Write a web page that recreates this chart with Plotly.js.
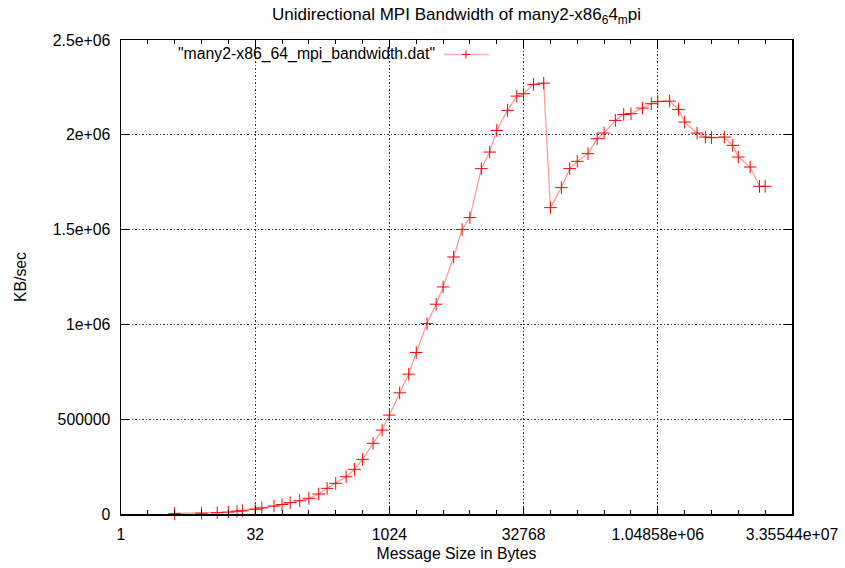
<!DOCTYPE html>
<html>
<head>
<meta charset="utf-8">
<script src="https://cdn.plot.ly/plotly-3.0.1.min.js"></script>
<style>
html,body{margin:0;padding:0;background:#fff;}
#chart{width:845px;height:568px;}
</style>
</head>
<body>
<div id="chart"></div>
<script>
// Message sizes (bytes)
var messageSizes = [4, 8, 12, 16, 20, 23, 32, 38, 52, 64, 79, 101, 128, 165, 205, 256, 335, 415, 512, 672, 848, 1024,
  1335, 1686, 2048, 2707, 3420, 4096, 5380, 6700, 8192, 11000, 13650, 16384, 21600, 27500, 32768, 42300, 55100, 65536,
  87000, 107800, 131072, 172900, 219000, 262144, 350400, 434700, 524288, 705600, 887000, 1048576, 1422000, 1789000,
  2097152, 2889000, 3580000, 4194304, 5850000, 7260000, 8388608, 11380000, 14500000, 16777216];
// Bandwidth (KB/sec)
var bandwidth = [3000, 4500, 7000, 10000, 15000, 17000, 25000, 32000, 42000, 50000, 60000, 70000, 82700, 105400, 135400,
  161800, 196500, 235500, 288200, 372500, 442600, 521600, 639100, 737700, 852000, 1004800, 1106500, 1197600, 1355700,
  1500100, 1563300, 1821500, 1909000, 2023300, 2128700, 2204000, 2216700, 2265700, 2272500, 1616000, 1721400, 1821500,
  1860000, 1900500, 1979600, 2009100, 2076000, 2107600, 2111300, 2140800, 2164000, 2176100, 2177700, 2133900, 2067000,
  2009100, 1988000, 1984800, 1988000, 1944300, 1882600, 1830000, 1728200, 1728200];

var xTickVals = [1, 32, 1024, 32768, 1048576, 33554432];
var xTickText = ["1", "32", "1024", "32768", "1.04858e+06", "3.35544e+07"];
var xMinorVals = [];
for (var e = 1; e < 25; e++) { xMinorVals.push(Math.pow(2, e)); }
var yTickVals = [0, 500000, 1000000, 1500000, 2000000, 2500000];
var yTickText = ["0", "500000", "1e+06", "1.5e+06", "2e+06", "2.5e+06"];

var seriesName = '"many2-x86_64_mpi_bandwidth.dat"';
var chartTitle = 'Unidirectional MPI Bandwidth of many2-x86<sub>6</sub>4<sub>m</sub>pi';

var FONT = 'Liberation Sans, Arial, Helvetica, sans-serif';
var fs = 15.8;

var trace = {
  x: messageSizes,
  y: bandwidth,
  type: 'scatter',
  mode: 'lines+markers',
  name: seriesName,
  line: {color: 'rgba(255,60,60,0.55)', width: 1.2},
  marker: {symbol: 'cross-thin', size: 9, color: '#ff0000', line: {color: '#ff0000', width: 1}},
  showlegend: false,
  cliponaxis: false
};

// legend drawn in gnuplot style (text left of sample)
var lx0 = (444 - 121) / 671, lx1 = (489 - 121) / 671, lxm = (466 - 121) / 671;
var ly = (514 - 54) / 474.5;
var dx = 4 / 671, dy = 4 / 474.5;

var layout = {
  width: 845, height: 568,
  margin: {l: 121, r: 53, t: 39.5, b: 54, pad: 0},
  paper_bgcolor: '#fff', plot_bgcolor: '#fff',
  font: {family: FONT, size: fs, color: '#000'},
  title: {text: chartTitle, font: {family: FONT, size: 17, color: '#000'}, x: 0.5, xref: 'paper', xanchor: 'center', y: 1 - 14 / 568, yref: 'container', yanchor: 'middle'},
  showlegend: false,
  xaxis: {
    type: 'log',
    range: [0, Math.log10(33554432)],
    tickmode: 'array', tickvals: xTickVals, ticktext: xTickText,
    ticks: 'inside', ticklen: 8, tickwidth: 1, tickcolor: '#000',
    minor: {tickmode: 'array', tickvals: xMinorVals, ticks: 'inside', ticklen: 4, tickwidth: 1, tickcolor: '#000', showgrid: false},
    showline: true, linecolor: '#000', linewidth: 1.5, mirror: 'allticks',
    showgrid: true, gridcolor: '#333', griddash: '2px,2px,1px,2px', gridwidth: 1,
    zeroline: false,
    ticklabelstandoff: 6,
    tickfont: {family: FONT, size: fs, color: '#000'},
    title: {text: 'Message Size in Bytes', font: {family: FONT, size: fs, color: '#000'}, standoff: 5}
  },
  yaxis: {
    range: [0, 2500000],
    tickmode: 'array', tickvals: yTickVals, ticktext: yTickText,
    ticks: 'inside', ticklen: 8, tickwidth: 1, tickcolor: '#000',
    showline: true, linecolor: '#000', linewidth: 1.5, mirror: 'allticks',
    showgrid: true, gridcolor: '#333', griddash: '2px,2px,1px,2px', gridwidth: 1,
    zeroline: false,
    ticklabelstandoff: 6,
    tickfont: {family: FONT, size: fs, color: '#000'},
    title: {text: 'KB/sec', font: {family: FONT, size: fs, color: '#000'}, standoff: 22}
  },
  shapes: [
    {type: 'line', xref: 'paper', yref: 'paper', x0: lx0, x1: lx1, y0: ly, y1: ly, line: {color: 'rgba(255,60,60,0.4)', width: 1.5}},
    {type: 'line', xref: 'paper', yref: 'paper', x0: lxm - dx, x1: lxm + dx, y0: ly, y1: ly, line: {color: '#ff0000', width: 1}},
    {type: 'line', xref: 'paper', yref: 'paper', x0: lxm, x1: lxm, y0: ly - dy, y1: ly + dy, line: {color: '#ff0000', width: 1}}
  ],
  annotations: [
    {text: seriesName, xref: 'paper', yref: 'paper', x: (437 - 121) / 671, y: ly, xanchor: 'right', yanchor: 'middle', showarrow: false, font: {family: FONT, size: fs, color: '#000'}}
  ]
};

Plotly.newPlot('chart', [trace], layout, {displayModeBar: false, staticPlot: true});
</script>
</body>
</html>
